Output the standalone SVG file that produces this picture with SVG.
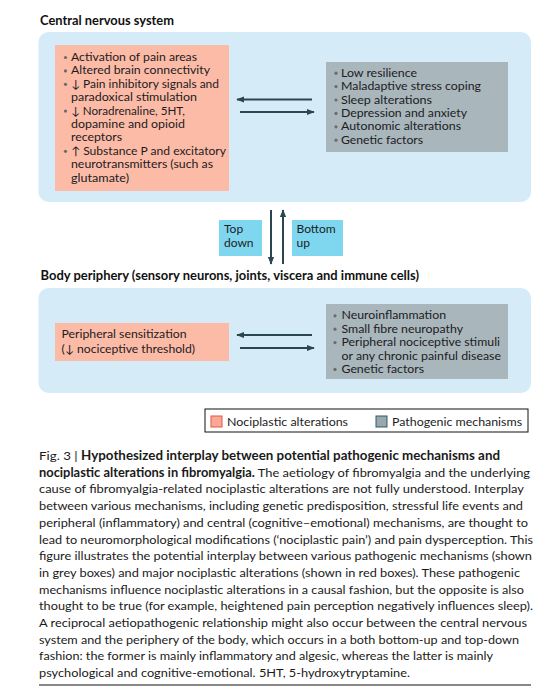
<svg xmlns="http://www.w3.org/2000/svg" width="550" height="700" viewBox="0 0 550 700">
<defs>
<style>
.t{font-family:Lato,"Open Sans","DejaVu Sans",sans-serif;font-size:11.2px;fill:#1c1c24}
.t2{font-family:Lato,"Open Sans","DejaVu Sans",sans-serif;font-size:12px;fill:#1c1c24}
.b{font-family:Lato,"Open Sans","DejaVu Sans",sans-serif;font-size:12.5px;font-weight:bold;fill:#111}
.bul{fill:#6b6b6b}
.red{fill:#fcbba6}
.grey{fill:#a9b6bb}
.panel{fill:#d5ebf7}
.cy{fill:#7fd7ef}
.ar{stroke:#2a474d;stroke-width:2;fill:none}
.cap{font-family:Lato,"Open Sans","DejaVu Sans",sans-serif;font-size:12.3px;fill:#1a1a1a}
</style>
<marker id="ah" viewBox="0 0 10 10" refX="9" refY="5" markerWidth="4" markerHeight="4" orient="auto-start-reverse" markerUnits="strokeWidth">
<path d="M0,1 L10,5 L0,9 Z" fill="#2a474d"/>
</marker>
</defs>
<rect width="550" height="700" fill="#ffffff"/>

<g id="cns">
<text class="b" x="40" y="25" textLength="134" lengthAdjust="spacingAndGlyphs">Central nervous system</text>
<rect class="panel" x="38.5" y="32" width="492.5" height="170" rx="10"/>
</g>

<g id="cns-nociplastic">
<rect class="red" x="55" y="45" width="174" height="146"/>
<g class="t">
<circle class="bul" cx="65.5" cy="57.5" r="1.6"/>
<text x="71" y="61" textLength="126" lengthAdjust="spacingAndGlyphs">Activation of pain areas</text>
<circle class="bul" cx="65.5" cy="70.9" r="1.6"/>
<text x="71" y="74.4" textLength="139" lengthAdjust="spacingAndGlyphs">Altered brain connectivity</text>
<circle class="bul" cx="65.5" cy="84.3" r="1.6"/>
<text x="71" y="87.8" textLength="148" lengthAdjust="spacingAndGlyphs">↓ Pain inhibitory signals and</text>
<text x="71" y="101.2" textLength="126" lengthAdjust="spacingAndGlyphs">paradoxical stimulation</text>
<circle class="bul" cx="65.5" cy="111.1" r="1.6"/>
<text x="71" y="114.6" textLength="114" lengthAdjust="spacingAndGlyphs">↓ Noradrenaline, 5HT,</text>
<text x="71" y="128" textLength="114" lengthAdjust="spacingAndGlyphs">dopamine and opioid</text>
<text x="71" y="141.4" textLength="51" lengthAdjust="spacingAndGlyphs">receptors</text>
<circle class="bul" cx="65.5" cy="151.3" r="1.6"/>
<text x="71" y="154.8" textLength="155" lengthAdjust="spacingAndGlyphs">↑ Substance P and excitatory</text>
<text x="71" y="168.2" textLength="142" lengthAdjust="spacingAndGlyphs">neurotransmitters (such as</text>
<text x="71" y="181.6" textLength="58" lengthAdjust="spacingAndGlyphs">glutamate)</text>
</g>
</g>

<g id="cns-pathogenic">
<rect class="grey" x="326" y="62" width="182" height="90"/>
<g class="t">
<circle class="bul" cx="336" cy="73.2" r="1.6"/>
<text x="341" y="76.7" textLength="76" lengthAdjust="spacingAndGlyphs">Low resilience</text>
<circle class="bul" cx="336" cy="86.6" r="1.6"/>
<text x="341" y="90.1" textLength="140" lengthAdjust="spacingAndGlyphs">Maladaptive stress coping</text>
<circle class="bul" cx="336" cy="100" r="1.6"/>
<text x="341" y="103.5" textLength="91" lengthAdjust="spacingAndGlyphs">Sleep alterations</text>
<circle class="bul" cx="336" cy="113.4" r="1.6"/>
<text x="341" y="116.9" textLength="126" lengthAdjust="spacingAndGlyphs">Depression and anxiety</text>
<circle class="bul" cx="336" cy="126.8" r="1.6"/>
<text x="341" y="130.3" textLength="120" lengthAdjust="spacingAndGlyphs">Autonomic alterations</text>
<circle class="bul" cx="336" cy="140.2" r="1.6"/>
<text x="341" y="143.7" textLength="82" lengthAdjust="spacingAndGlyphs">Genetic factors</text>
</g>
</g>

<g id="top-down">
<rect class="cy" x="219" y="220" width="43" height="36"/>
<text class="t2" x="224" y="233.3">Top</text>
<text class="t2" x="224" y="247.3">down</text>
</g>
<g id="bottom-up">
<rect class="cy" x="292" y="220" width="51" height="36"/>
<text class="t2" x="296.5" y="233.3">Bottom</text>
<text class="t2" x="296.5" y="247.3">up</text>
</g>

<g id="periphery">
<text class="b" x="40.5" y="280" textLength="378.5" lengthAdjust="spacingAndGlyphs">Body periphery (sensory neurons, joints, viscera and immune cells)</text>
<rect class="panel" x="38.5" y="288" width="492.5" height="105" rx="10"/>
</g>

<g id="per-nociplastic">
<rect class="red" x="55" y="323" width="174" height="38"/>
<text class="t" x="61.5" y="338.3" textLength="125" lengthAdjust="spacingAndGlyphs" fill="#2a1a18">Peripheral sensitization</text>
<text class="t" x="61.5" y="352.7" textLength="133.5" lengthAdjust="spacingAndGlyphs">(↓ nociceptive threshold)</text>
</g>

<g id="per-pathogenic">
<rect class="grey" x="326" y="304" width="182" height="75"/>
<g class="t">
<circle class="bul" cx="335" cy="315.8" r="1.6"/>
<text x="341.5" y="319.3" textLength="104.5" lengthAdjust="spacingAndGlyphs">Neuroinflammation</text>
<circle class="bul" cx="335" cy="329.2" r="1.6"/>
<text x="341.5" y="332.7" textLength="121.5" lengthAdjust="spacingAndGlyphs">Small fibre neuropathy</text>
<circle class="bul" cx="335" cy="342.6" r="1.6"/>
<text x="341.5" y="346.1" textLength="158.5" lengthAdjust="spacingAndGlyphs">Peripheral nociceptive stimuli</text>
<text x="341.5" y="359.5" textLength="159.5" lengthAdjust="spacingAndGlyphs">or any chronic painful disease</text>
<circle class="bul" cx="335" cy="369.4" r="1.6"/>
<text x="341.5" y="372.9" textLength="82.5" lengthAdjust="spacingAndGlyphs">Genetic factors</text>
</g>
</g>

<g id="connectors">
<line class="ar" x1="312" y1="99.5" x2="237" y2="99.5" marker-end="url(#ah)"/>
<line class="ar" x1="240" y1="112" x2="314" y2="112" marker-end="url(#ah)"/>
<line class="ar" x1="312" y1="335" x2="237" y2="335" marker-end="url(#ah)"/>
<line class="ar" x1="240" y1="348" x2="314" y2="348" marker-end="url(#ah)"/>
<line class="ar" x1="271" y1="210" x2="271" y2="264" marker-end="url(#ah)"/>
<line class="ar" x1="283" y1="264" x2="283" y2="210" marker-end="url(#ah)"/>
</g>

<g id="legend">
<rect x="205" y="409" width="323" height="23" fill="#ffffff" stroke="#111" stroke-width="1"/>
<rect x="211" y="416" width="11" height="11" fill="#f9a994" stroke="#e2574a" stroke-width="1"/>
<text class="t2" x="227" y="425.5" textLength="121" lengthAdjust="spacingAndGlyphs">Nociplastic alterations</text>
<rect x="376" y="416" width="11" height="11" fill="#9aa8ae" stroke="#2e5d69" stroke-width="1"/>
<text class="t2" x="392" y="425.5" textLength="130" lengthAdjust="spacingAndGlyphs">Pathogenic mechanisms</text>
</g>

<g id="caption">
<text class="cap" x="39" y="460" textLength="461" lengthAdjust="spacingAndGlyphs">Fig. 3 | <tspan font-weight="bold">Hypothesized interplay between potential pathogenic mechanisms and</tspan></text>
<text class="cap" x="39" y="476.7" textLength="491" lengthAdjust="spacingAndGlyphs"><tspan font-weight="bold">nociplastic alterations in fibromyalgia.</tspan> The aetiology of fibromyalgia and the underlying</text>
<text class="cap" x="39" y="493.4" textLength="485" lengthAdjust="spacingAndGlyphs">cause of fibromyalgia-related nociplastic alterations are not fully understood. Interplay</text>
<text class="cap" x="39" y="510.1" textLength="484" lengthAdjust="spacingAndGlyphs">between various mechanisms, including genetic predisposition, stressful life events and</text>
<text class="cap" x="39" y="526.8" textLength="489" lengthAdjust="spacingAndGlyphs">peripheral (inflammatory) and central (cognitive–emotional) mechanisms, are thought to</text>
<text class="cap" x="39" y="543.5" textLength="494" lengthAdjust="spacingAndGlyphs">lead to neuromorphological modifications (‘nociplastic pain’) and pain dysperception. This</text>
<text class="cap" x="39" y="560.2" textLength="493" lengthAdjust="spacingAndGlyphs">figure illustrates the potential interplay between various pathogenic mechanisms (shown</text>
<text class="cap" x="39" y="576.9" textLength="481" lengthAdjust="spacingAndGlyphs">in grey boxes) and major nociplastic alterations (shown in red boxes). These pathogenic</text>
<text class="cap" x="39" y="593.6" textLength="485" lengthAdjust="spacingAndGlyphs">mechanisms influence nociplastic alterations in a causal fashion, but the opposite is also</text>
<text class="cap" x="39" y="610.3" textLength="494" lengthAdjust="spacingAndGlyphs">thought to be true (for example, heightened pain perception negatively influences sleep).</text>
<text class="cap" x="39" y="627" textLength="488" lengthAdjust="spacingAndGlyphs">A reciprocal aetiopathogenic relationship might also occur between the central nervous</text>
<text class="cap" x="39" y="643.7" textLength="480" lengthAdjust="spacingAndGlyphs">system and the periphery of the body, which occurs in a both bottom-up and top-down</text>
<text class="cap" x="39" y="660.4" textLength="454" lengthAdjust="spacingAndGlyphs">fashion: the former is mainly inflammatory and algesic, whereas the latter is mainly</text>
<text class="cap" x="39" y="677.1" textLength="371" lengthAdjust="spacingAndGlyphs">psychological and cognitive-emotional. 5HT, 5-hydroxytryptamine.</text>
<line x1="39" y1="685" x2="531" y2="685" stroke="#111" stroke-width="1.2"/>
</g>
</svg>
